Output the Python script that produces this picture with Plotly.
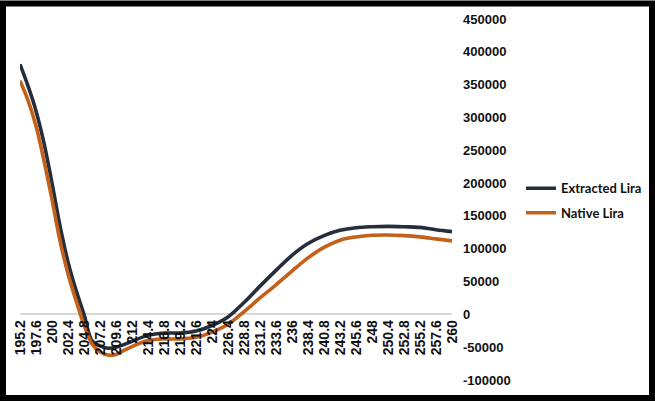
import plotly.graph_objects as go

# Wavelength (nm)
wavelength = [195.2, 196.4, 197.6, 198.8, 200, 201.2, 202.4, 203.6, 204.8, 206,
              207.2, 208.4, 209.6, 210.8, 212, 214.4, 216.8, 219.2, 221.6, 224,
              226.4, 228.8, 231.2, 233.6, 236, 238.4, 240.8, 243.2, 245.6, 248,
              250.4, 252.8, 255.2, 257.6, 260]

extracted_lira = [381000, 348000, 310000, 261000, 200000, 135000, 80000, 37000, 0, -40000,
                  -48000, -51500, -50000, -46000, -41000, -32000, -28500, -28500, -25500, -17000,
                  -4000, 18000, 43000, 67000, 90000, 108000, 120000, 128000, 132000, 133500,
                  134000, 133500, 132500, 129000, 126000]

native_lira = [356000, 326000, 287000, 234000, 175000, 112000, 62000, 21000, -16000, -45000,
               -57000, -62000, -61000, -55000, -49000, -40000, -37500, -37500, -35000, -27000,
               -15000, 4000, 25000, 45000, 66000, 86000, 102000, 113000, 118000, 120500,
               121000, 120000, 118000, 115000, 112000]

x_tick_labels = ["195.2", "197.6", "200", "202.4", "204.8", "207.2", "209.6", "212",
                 "214.4", "216.8", "219.2", "221.6", "224", "226.4", "228.8", "231.2",
                 "233.6", "236", "238.4", "240.8", "243.2", "245.6", "248", "250.4",
                 "252.8", "255.2", "257.6", "260"]
y_tick_values = [-100000, -50000, 0, 50000, 100000, 150000, 200000, 250000, 300000, 350000, 400000, 450000]
y_tick_labels = [str(v) for v in y_tick_values]

W, H = 655, 401
ML, MR, MT, MB = 20, 203, 18.5, 21
PW = W - ML - MR
PH = H - MT - MB

def px_to_paper_x(px):
    return (px - ML) / PW

def px_to_paper_y(py):
    return (H - MB - py) / PH

fig = go.Figure()
fig.add_trace(go.Scatter(
    x=wavelength, y=extracted_lira, mode="lines", name="Extracted Lira",
    line=dict(color="#262e3b", width=3.6, shape="spline", smoothing=1.0),
    legend="legend"))
fig.add_trace(go.Scatter(
    x=wavelength, y=native_lira, mode="lines", name="Native Lira",
    line=dict(color="#c4601a", width=3.6, shape="spline", smoothing=1.0),
    legend="legend2"))

ymin, ymax = y_tick_values[0], y_tick_values[-1]
zero_pos = (0 - ymin) / (ymax - ymin)

legend_font = dict(family="Lato", size=13, color="#111111", weight="bold")

fig.update_layout(
    width=W, height=H,
    margin=dict(l=ML, r=MR, t=MT, b=MB, pad=0, autoexpand=False),
    paper_bgcolor="white", plot_bgcolor="white",
    showlegend=True,
    hovermode=False,
    legend=dict(x=px_to_paper_x(521), y=px_to_paper_y(188), xanchor="left", yanchor="middle",
                font=legend_font, bgcolor="rgba(0,0,0,0)", borderwidth=0),
    legend2=dict(x=px_to_paper_x(521), y=px_to_paper_y(212.5), xanchor="left", yanchor="middle",
                 font=legend_font, bgcolor="rgba(0,0,0,0)", borderwidth=0),
    xaxis=dict(
        range=[wavelength[0], wavelength[-1]],
        tickmode="array",
        tickvals=[float(t) for t in x_tick_labels],
        ticktext=x_tick_labels,
        tickangle=-90,
        ticks="",
        showgrid=False, zeroline=False, showline=False,
        anchor="free", position=zero_pos,
        automargin=False,
        ticklabelstandoff=2,
        tickfont=dict(family="Liberation Sans", size=14, color="#111111", weight="bold"),
    ),
    yaxis=dict(
        range=[ymin, ymax],
        side="right",
        tickmode="array",
        tickvals=y_tick_values,
        ticktext=y_tick_labels,
        ticks="",
        showgrid=False,
        zeroline=True, zerolinecolor="#d9d9d9", zerolinewidth=1.5,
        showline=False,
        automargin=False,
        ticklabelstandoff=10,
        tickfont=dict(family="Liberation Sans", size=13, color="#111111", weight="bold"),
    ),
    shapes=[dict(
        type="rect", xref="paper", yref="paper",
        x0=px_to_paper_x(3), x1=px_to_paper_x(652),
        y0=px_to_paper_y(398), y1=px_to_paper_y(3),
        line=dict(color="black", width=6), fillcolor="rgba(0,0,0,0)", layer="above")],
)

fig.write_html("out.html", config={"displayModeBar": False},
               post_script="document.body.style.margin='0';document.body.style.overflow='hidden';")
